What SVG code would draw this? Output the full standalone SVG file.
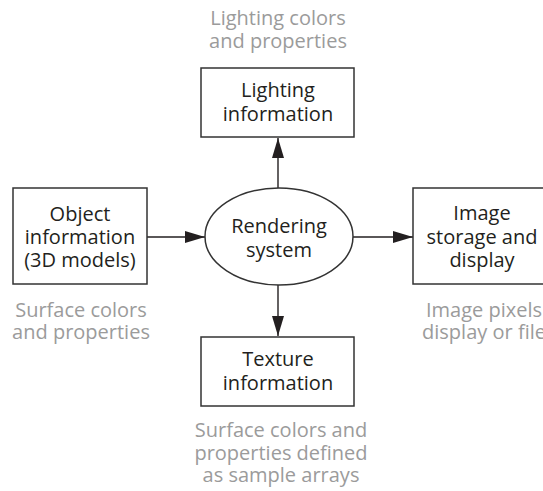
<svg xmlns="http://www.w3.org/2000/svg" width="543" height="491" viewBox="0 0 543 491">
<style>
.box{fill:#fff;stroke:#333;stroke-width:1.5}
.lbl{font-family:"Open Sans","Liberation Sans",sans-serif;font-size:20px;fill:#231f20;text-anchor:middle}
.note{font-family:"Open Sans","Liberation Sans",sans-serif;font-size:20px;fill:#9b9b9b;text-anchor:middle}
.conn{stroke:#231f20;stroke-width:1.4;fill:none}
</style>
<defs>
<marker id="ah" viewBox="0 0 20 12" refX="20" refY="6" markerWidth="20" markerHeight="12" markerUnits="userSpaceOnUse" orient="auto">
<path d="M0,0 L20,6 L0,12 Z" fill="#231f20"/>
</marker>
</defs>
<rect width="543" height="491" fill="#fff"/>
<g id="connectors">
<line class="conn" x1="278" y1="188" x2="278" y2="138" marker-end="url(#ah)"/>
<line class="conn" x1="147" y1="237" x2="205" y2="237" marker-end="url(#ah)"/>
<line class="conn" x1="353" y1="237" x2="413" y2="237" marker-end="url(#ah)"/>
<line class="conn" x1="278" y1="285" x2="278" y2="336" marker-end="url(#ah)"/>
</g>
<g id="lighting">
<rect class="box" x="201" y="68" width="153" height="69"/>
<text class="lbl" x="278" y="97">Lighting</text>
<text class="lbl" x="278" y="121">information</text>
<text class="note" x="278" y="25">Lighting colors</text>
<text class="note" x="278" y="48">and properties</text>
</g>
<g id="object">
<rect class="box" x="13" y="188" width="134" height="96"/>
<text class="lbl" x="80" y="221">Object</text>
<text class="lbl" x="80" y="244">information</text>
<text class="lbl" x="80" y="267">(3D models)</text>
<text class="note" x="81" y="317">Surface colors</text>
<text class="note" x="81" y="339">and properties</text>
</g>
<g id="rendering">
<ellipse class="box" cx="279" cy="236.5" rx="74" ry="48.5"/>
<text class="lbl" x="279" y="233">Rendering</text>
<text class="lbl" x="279" y="257">system</text>
</g>
<g id="image">
<rect class="box" x="413" y="188" width="134" height="96"/>
<text class="lbl" x="482" y="220">Image</text>
<text class="lbl" x="482" y="244">storage and</text>
<text class="lbl" x="482" y="267">display</text>
<text class="note" x="484" y="317">Image pixels</text>
<text class="note" x="484" y="339">display or file</text>
</g>
<g id="texture">
<rect class="box" x="201" y="337" width="153" height="69"/>
<text class="lbl" x="278" y="366">Texture</text>
<text class="lbl" x="278" y="390">information</text>
<text class="note" x="281" y="437">Surface colors and</text>
<text class="note" x="281" y="460">properties defined</text>
<text class="note" x="281" y="482">as sample arrays</text>
</g>
</svg>
